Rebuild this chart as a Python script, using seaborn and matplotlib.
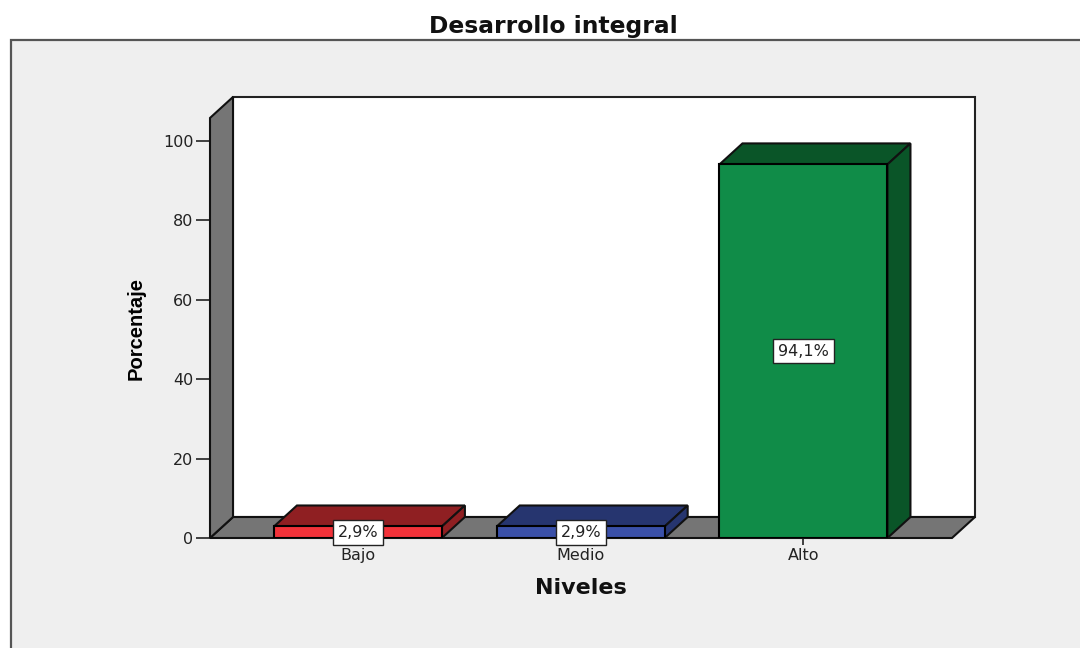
import pandas as pd
import seaborn as sns
import matplotlib.pyplot as plt
from matplotlib.patches import Polygon, Rectangle

# Data
niveles = ["Bajo", "Medio", "Alto"]
porcentaje = [2.9, 2.9, 94.1]
etiquetas = ["2,9%", "2,9%", "94,1%"]
y_ticks = [0, 20, 40, 60, 80, 100]

# Colors: front face, darker side/top face
frente = ["#F23239", "#3A50A8", "#108C48"]
oscuro = ["#8F1F22", "#26356F", "#0A5528"]
GRIS = "#757575"
FONDO = "#EFEFEF"

df = pd.DataFrame({"Niveles": niveles, "Porcentaje": porcentaje})

sns.set_style("white")
plt.rcParams["font.family"] = ["Liberation Sans", "DejaVu Sans"]

W, H = 1080, 648
fig = plt.figure(figsize=(W / 100, H / 100), dpi=100, facecolor="white")

# gray chart panel, behind the axes
fig.add_artist(Rectangle((11 / W, -0.01), 1.01 - 11 / W, 0.01 + (H - 40) / H,
                         transform=fig.transFigure, facecolor=FONDO,
                         edgecolor="#555555", linewidth=1.6, zorder=-1))

# axes span the front-left corner to the back-right corner of the 3D box
left, right, top, bottom = 210, 975, 97, 538
ax = fig.add_axes([left / W, (H - bottom) / H, (right - left) / W, (bottom - top) / H])
ax.patch.set_alpha(0)

sns.barplot(data=df, x="Niveles", y="Porcentaje", hue="Niveles", hue_order=niveles,
            palette=frente, width=0.754, saturation=1, edgecolor="black", linewidth=1.5,
            legend=False, ax=ax, zorder=4)

ax.set_xlim(-0.664, 2.77)
ax.set_ylim(0, 111.08)

# depth of the box in data units
dx = 23 / 222.75
dy = 21 / 3.97
x0, x1 = -0.664, 2.77 - dx
y_top = 105.8

ax.add_patch(Polygon([(x0 + dx, dy), (x1 + dx, dy), (x1 + dx, y_top + dy), (x0 + dx, y_top + dy)],
                     facecolor="white", edgecolor="#222222", linewidth=1.5, zorder=1, clip_on=False))
ax.add_patch(Polygon([(x0, 0), (x1, 0), (x1 + dx, dy), (x0 + dx, dy)],
                     facecolor=GRIS, edgecolor="#111111", linewidth=1.5, zorder=2, clip_on=False))
ax.add_patch(Polygon([(x0, 0), (x0 + dx, dy), (x0 + dx, y_top + dy), (x0, y_top)],
                     facecolor=GRIS, edgecolor="#111111", linewidth=1.5, zorder=2, clip_on=False))

# top and side faces of the bars
bars = [c[0] for c in ax.containers]
for bar, color in zip(bars, oscuro):
    xa = bar.get_x()
    xb = xa + bar.get_width()
    h = bar.get_height()
    ax.add_patch(Polygon([(xa, h), (xb, h), (xb + dx, h + dy), (xa + dx, h + dy)],
                         facecolor=color, edgecolor="#111111", linewidth=1.5, zorder=3, clip_on=False))
    ax.add_patch(Polygon([(xb, 0), (xb + dx, dy), (xb + dx, h + dy), (xb, h)],
                         facecolor=color, edgecolor="#111111", linewidth=1.5, zorder=3, clip_on=False))

for container, label in zip(ax.containers, etiquetas):
    ax.bar_label(container, labels=[label], label_type="center", fontsize=11.5,
                 family="DejaVu Sans", color="#222222", zorder=6,
                 bbox=dict(boxstyle="square,pad=0.3", facecolor="white", edgecolor="#222222", linewidth=1))

sns.despine(ax=ax, left=True, bottom=True, right=True, top=True)
ax.set_yticks(y_ticks)
ax.set_xticks(range(len(niveles)), niveles)
ax.tick_params(axis="y", left=True, length=10, width=1.2, color="#222222", labelsize=11.5,
               labelcolor="#222222", pad=2)
ax.tick_params(axis="x", bottom=True, length=5, width=1.2, color="#222222", labelsize=11.5,
               labelcolor="#222222", pad=2)
for lab in ax.get_yticklabels() + ax.get_xticklabels():
    lab.set_family("DejaVu Sans")

ax.set_xlabel("")
ax.set_ylabel("")
fig.text(136 / W, 1 - 329 / H, "Porcentaje", rotation=90, ha="center", va="center",
         fontsize=14.5, fontweight="bold", family="Liberation Sans", color="black")
fig.text(581 / W, 1 - 588 / H, "Niveles", ha="center", va="center",
         fontsize=16, fontweight="bold", family="DejaVu Sans", color="#111111")
fig.text(553 / W, 1 - 26 / H, "Desarrollo integral", ha="center", va="center",
         fontsize=16.8, fontweight="bold", family="DejaVu Sans", color="#111111")

fig.savefig("out.png", dpi=100, facecolor="white")
